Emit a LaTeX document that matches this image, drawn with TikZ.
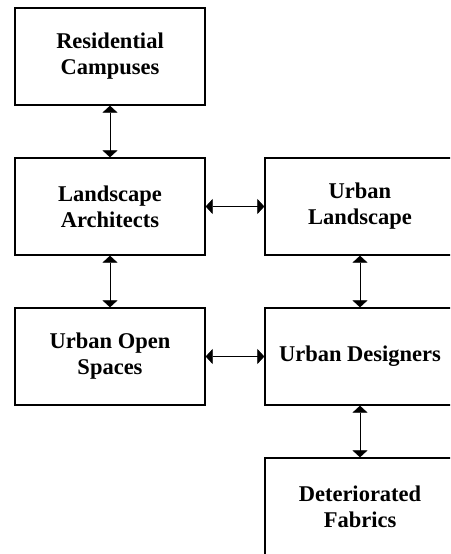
\documentclass[tikz,border=0pt]{standalone}
\usepackage{fontspec}
\setmainfont{Liberation Serif}
\usetikzlibrary{arrows.meta}
\begin{document}
\begin{tikzpicture}[x=1pt,y=-1pt,
  box/.style={draw,line width=1.3pt,minimum width=190pt,minimum height=97pt,
    align=center,inner sep=0pt,font=\bfseries\fontsize{22.5}{26}\selectfont},
  link/.style={line width=0.6pt,{Triangle[width=15pt,length=7pt]}-{Triangle[width=15pt,length=7pt]}}]
\useasboundingbox (0,0) rectangle (450,554);
\clip (0,0) rectangle (450,554);
\node[box] (rc) at (110,56.5) {Residential\\Campuses};
\node[box] (la) at (110,206.5) {Landscape\\Architects};
\node[box] (uo) at (110,356.5) {Urban Open\\Spaces};
\node[box] (ul) at (360,206.5) {Urban\\Landscape};
\node[box] (ud) at (360,356.5) {Urban Designers};
\node[box] (df) at (360,506.5) {Deteriorated\\Fabrics};
\draw[link] (rc) -- (la);
\draw[link] (la) -- (uo);
\draw[link] (la) -- (ul);
\draw[link] (uo) -- (ud);
\draw[link] (ul) -- (ud);
\draw[link] (ud) -- (df);
\end{tikzpicture}
\end{document}
